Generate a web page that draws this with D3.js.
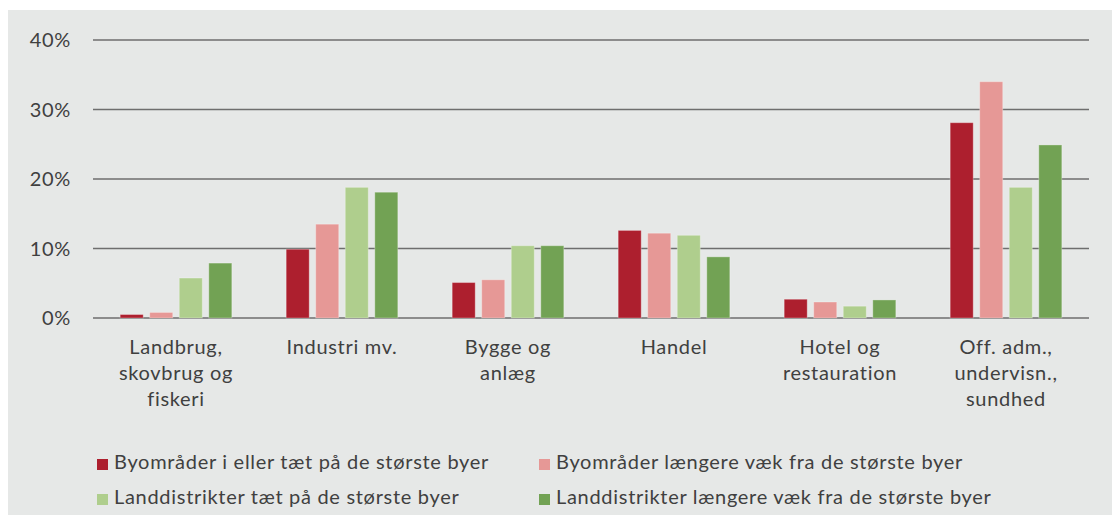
<!DOCTYPE html>
<html>
<head>
<meta charset="utf-8">
<script src="https://d3js.org/d3.v7.min.js"></script>
<style>
  body { margin: 0; background: #fff; }
  svg { display: block; font-family: Lato, "Open Sans", sans-serif; }
  text { letter-spacing: 0.7px; }
</style>
</head>
<body>
<svg width="1112" height="515"></svg>
<script>
// Data (percent)
const categories = ["Landbrug,\nskovbrug og\nfiskeri", "Industri mv.", "Bygge og\nanlæg", "Handel", "Hotel og\nrestauration", "Off. adm.,\nundervisn.,\nsundhed"];
const seriesNames = [
  "Byområder i eller tæt på de største byer",
  "Byområder længere væk fra de største byer",
  "Landdistrikter tæt på de største byer",
  "Landdistrikter længere væk fra de største byer"
];
const byNear = [0.5, 9.9, 5.1, 12.6, 2.7, 28.1];
const byFar = [0.8, 13.5, 5.5, 12.2, 2.3, 34.0];
const landNear = [5.75, 18.8, 10.4, 11.9, 1.7, 18.8];
const landFar = [7.9, 18.1, 10.4, 8.8, 2.6, 24.9];
const yTicks = [0, 10, 20, 30, 40];
const colors = ["#ad1f2e", "#e69896", "#afce8d", "#72a254"];

const seriesValues = [byNear, byFar, landNear, landFar];

const svg = d3.select("svg");
svg.append("rect").attr("x", 8).attr("y", 10).attr("width", 1104).attr("height", 505).attr("fill", "#e6e8e7");

const x0 = d3.scaleBand().domain(d3.range(categories.length)).range([93, 1089]);
const x1 = d3.scaleBand().domain(d3.range(seriesNames.length)).range([0, x0.bandwidth()])
  .paddingInner(0.22).paddingOuter(0.92);
const y = d3.scaleLinear().domain([0, 40]).range([318, 40]);

// gridlines
svg.append("g").selectAll("line").data(yTicks).join("line")
  .attr("x1", 93).attr("x2", 1089)
  .attr("y1", d => y(d)).attr("y2", d => y(d))
  .attr("stroke", "#6e6e6e").attr("stroke-width", 1.6);

// y labels
svg.append("g").selectAll("text").data(yTicks).join("text")
  .attr("x", 71).attr("y", d => y(d)).attr("dy", "0.36em")
  .attr("text-anchor", "end").attr("font-size", 20).attr("fill", "#404040")
  .text(d => d + "%");

// bars
const groups = svg.append("g").selectAll("g").data(categories).join("g")
  .attr("transform", (d, i) => `translate(${x0(i)},0)`);
groups.selectAll("rect").data((d, i) => seriesValues.map((s, k) => ({ k, v: s[i] }))).join("rect")
  .attr("x", d => x1(d.k))
  .attr("width", x1.bandwidth())
  .attr("y", d => y(d.v))
  .attr("height", d => y(0) - y(d.v))
  .attr("fill", d => colors[d.k])
  .attr("stroke", "rgba(255,255,255,0.3)").attr("stroke-width", 1);

// category labels
const labels = svg.append("g").selectAll("text").data(categories).join("text")
  .attr("text-anchor", "middle").attr("font-size", 20).attr("fill", "#404040")
  .attr("x", (d, i) => x0(i) + x0.bandwidth() / 2)
  .attr("y", 354);
labels.selectAll("tspan").data(d => d.split("\n")).join("tspan")
  .attr("x", function () { return d3.select(this.parentNode).attr("x"); })
  .attr("dy", (d, i) => i === 0 ? 0 : 26)
  .text(d => d);

// legend
const legendPos = [[97, 459], [539, 459], [97, 494], [539, 494]];
const legend = svg.append("g").selectAll("g").data(seriesNames).join("g")
  .attr("transform", (d, i) => `translate(${legendPos[i][0]},${legendPos[i][1]})`);
legend.append("rect").attr("width", 11).attr("height", 11).attr("fill", (d, i) => colors[i]);
legend.append("text").attr("x", 17).attr("y", 10).attr("font-size", 20).attr("fill", "#404040").text(d => d);
</script>
</body>
</html>
